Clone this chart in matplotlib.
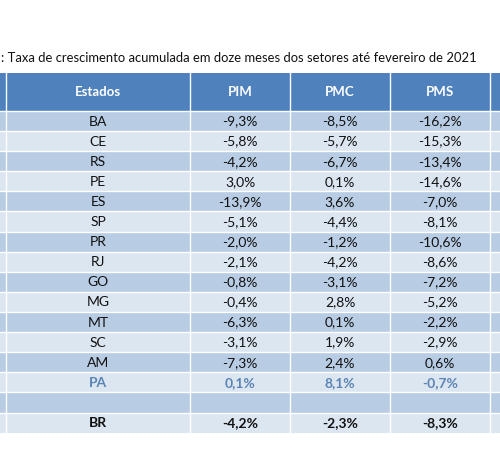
import matplotlib
matplotlib.use("Agg")
import matplotlib.pyplot as plt
from matplotlib.patches import Rectangle

title = ": Taxa de crescimento acumulada em doze meses dos setores até fevereiro de 2021"
columns = ["Estados", "PIM", "PMC", "PMS"]
states = ["BA", "CE", "RS", "PE", "ES", "SP", "PR", "RJ", "GO", "MG", "MT", "SC", "AM", "PA"]
pim = ["-9,3%", "-5,8%", "-4,2%", "3,0%", "-13,9%", "-5,1%", "-2,0%", "-2,1%", "-0,8%",
       "-0,4%", "-6,3%", "-3,1%", "-7,3%", "0,1%"]
pmc = ["-8,5%", "-5,7%", "-6,7%", "0,1%", "3,6%", "-4,4%", "-1,2%", "-4,2%", "-3,1%",
       "2,8%", "0,1%", "1,9%", "2,4%", "8,1%"]
pms = ["-16,2%", "-15,3%", "-13,4%", "-14,6%", "-7,0%", "-8,1%", "-10,6%", "-8,6%", "-7,2%",
       "-5,2%", "-2,2%", "-2,9%", "0,6%", "-0,7%"]
total = ["BR", "-4,2%", "-2,3%", "-8,3%"]

HEADER = "#4f81bd"
DARK = "#b8cce4"
LIGHT = "#dce6f1"
HIGHLIGHT = "#5b84b4"
FONT = "Lato"

fig = plt.figure(figsize=(5.0, 4.59), dpi=100)
ax = fig.add_axes([0, 0, 1, 1])
ax.set_xlim(0, 500)
ax.set_ylim(459, 0)
ax.axis("off")

col_edges = [6, 190, 290, 390, 490]
centers = [(a + b) / 2 for a, b in zip(col_edges[:-1], col_edges[1:])]

ax.text(1, 58, title, fontsize=9.4, family=FONT, va="center", ha="left",
        color="#111111")

# header
top, hh = 73, 38
ax.add_patch(Rectangle((0, top), 500, hh, color=HEADER, lw=0))
for c, name in zip(centers, columns):
    ax.text(c, top + hh / 2, name, color="white", weight="bold", fontsize=9.5,
            family=FONT, ha="center", va="center")

rh = 20.1
y = top + hh
rows = [[s, a, b, c] for s, a, b, c in zip(states, pim, pmc, pms)] + [None, total]
for i, row in enumerate(rows):
    color = DARK if i % 2 == 0 else LIGHT
    ax.add_patch(Rectangle((0, y), 500, rh, color=color, lw=0))
    if row is not None:
        is_pa = row[0] == "PA"
        is_br = row[0] == "BR"
        for c, val in zip(centers, row):
            ax.text(c, y + rh / 2 + 0.5, val, fontsize=10, family=FONT,
                    ha="center", va="center",
                    color=HIGHLIGHT if is_pa else "#111111",
                    weight="bold" if (is_pa or is_br) else "normal")
    y += rh

# white grid lines
for x in col_edges:
    ax.plot([x, x], [top, y], color="white", lw=1)
yy = top + hh
for i in range(len(rows)):
    ax.plot([0, 500], [yy, yy], color="white", lw=1)
    yy += rh

fig.savefig("out.png", dpi=100)
